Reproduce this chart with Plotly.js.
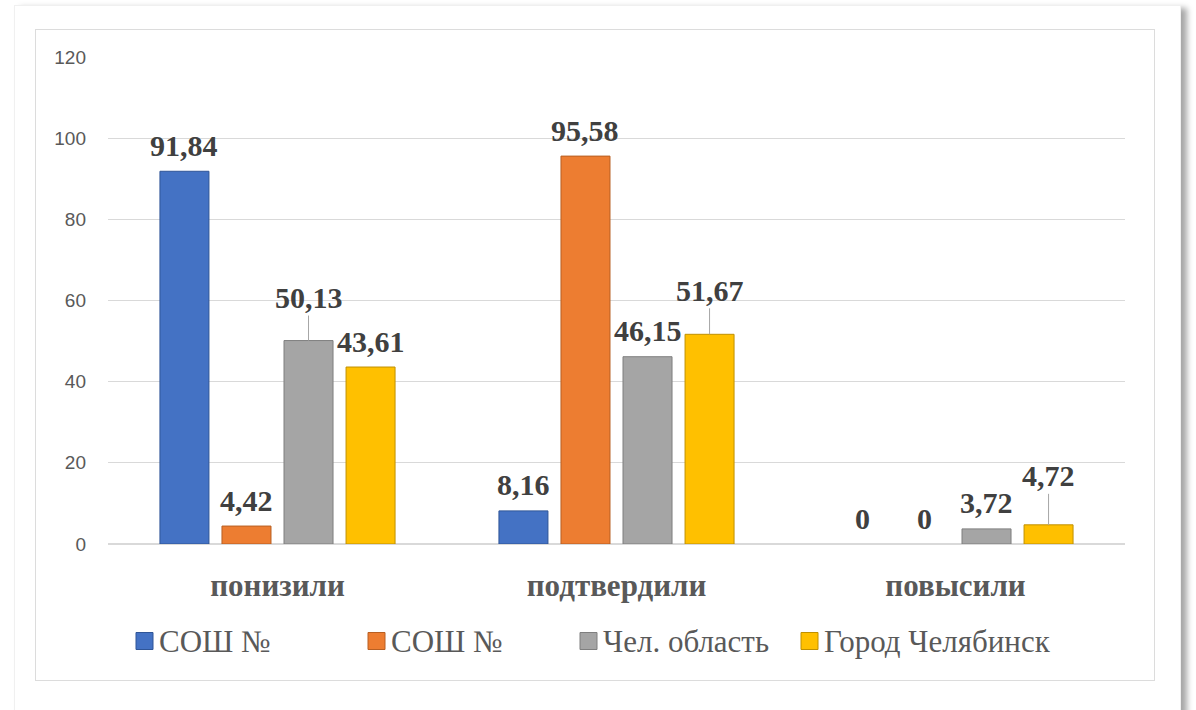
<!DOCTYPE html>
<html>
<head>
<meta charset="utf-8">
<script src="https://cdn.plot.ly/plotly-3.0.1.min.js"></script>
<style>
  html, body { margin:0; padding:0; background:#ffffff; width:1196px; height:710px; overflow:hidden; }
  #sheet { position:absolute; left:14px; top:5px; width:1165px; height:730px; background:#fff;
           border:1px solid #f0f0f0; box-shadow:6px 3px 6px rgba(0,0,0,0.35); }
  #frame { position:absolute; left:35px; top:29px; width:1118px; height:650px; border:1.5px solid #dcdcdc; }
  #chart { position:absolute; left:0; top:0; width:1196px; height:710px; }
</style>
</head>
<body>
<div id="sheet"></div>
<div id="frame"></div>
<div id="chart"></div>
<script>
// ---- data ----
const categories = ['понизили', 'подтвердили', 'повысили'];
const seriesNames = ['СОШ №', 'СОШ №', 'Чел. область', 'Город Челябинск'];
const school1 = [91.84, 8.16, 0];
const school2 = [4.42, 95.58, 0];
const region = [50.13, 46.15, 3.72];
const city = [43.61, 51.67, 4.72];
const yTicks = [0, 20, 40, 60, 80, 100, 120];
const seriesValues = [school1, school2, region, city];

// ---- styles ----
const fills = ['#4472C4', '#ED7D31', '#A5A5A5', '#FFC000'];
const edges = ['#2F5597', '#B85F22', '#7F7F7F', '#C09000'];
const bargap = 0.268, bargroupgap = 0.21;
// labels that were moved up with a leader line in the original: [series]-[category] -> lift in px
const leaderLift = { '2-0': 43, '3-1': 44, '3-2': 49 };
const normalLift = 26;

const L = 108, R = 71, T = 57, B = 166, W = 1196, H = 710;
const plotW = W - L - R, plotH = H - T - B;
const px2x = p => (p - L) / plotW;
const px2y = p => (H - B - p) / plotH;

const fmt = v => (v === 0 ? '0' : v.toFixed(2).replace('.', ','));

const traces = seriesValues.map((vals, i) => ({
  type: 'bar',
  name: seriesNames[i],
  x: categories,
  y: vals,
  marker: { color: fills[i], line: { color: edges[i], width: vals.map(v => (v === 0 ? 0 : 1)) } },
  hoverinfo: 'skip',
  showlegend: false
}));

const annotations = [];
const slot = (1 - bargap) / seriesValues.length;
seriesValues.forEach((vals, i) => {
  vals.forEach((v, j) => {
    const xc = j + (i - (seriesValues.length - 1) / 2) * slot;
    const key = i + '-' + j;
    const base = {
      x: xc, y: v, xref: 'x', yref: 'y', text: fmt(v),
      font: { family: 'Liberation Serif, Times New Roman, serif', size: 30, color: '#404040', weight: 'bold' },
      xanchor: 'center', yanchor: 'middle'
    };
    if (leaderLift[key] !== undefined) {
      annotations.push(Object.assign(base, {
        showarrow: true, ax: 0, ay: -leaderLift[key], arrowhead: 0, arrowwidth: 1,
        arrowcolor: '#a6a6a6', standoff: 0
      }));
    } else {
      annotations.push(Object.assign(base, { showarrow: false, yshift: normalLift }));
    }
  });
});

// custom legend (square markers + text)
const legendLeft = [136, 368, 580, 801];
const legendY = 641;
const shapes = [];
seriesNames.forEach((n, i) => {
  shapes.push({
    type: 'rect', xref: 'paper', yref: 'paper', xsizemode: 'pixel', ysizemode: 'pixel',
    xanchor: px2x(legendLeft[i]), yanchor: px2y(legendY),
    x0: 0, x1: 17, y0: -8.5, y1: 8.5,
    fillcolor: fills[i], line: { color: edges[i], width: 1 }
  });
  annotations.push({
    xref: 'paper', yref: 'paper', x: px2x(legendLeft[i]), y: px2y(legendY),
    xshift: 21, xanchor: 'left', yanchor: 'middle', showarrow: false,
    text: n, font: { family: 'Liberation Serif, Times New Roman, serif', size: 31, color: '#595959' }
  });
});

const layout = {
  width: W, height: H,
  margin: { l: L, r: R, t: T, b: B, pad: 0 },
  paper_bgcolor: 'rgba(0,0,0,0)', plot_bgcolor: 'rgba(0,0,0,0)',
  barmode: 'group', bargap: bargap, bargroupgap: bargroupgap,
  showlegend: false,
  xaxis: {
    type: 'category', showgrid: false, zeroline: false, showline: false, ticks: '',
    ticklabelstandoff: 20,
    tickfont: { family: 'Liberation Serif, Times New Roman, serif', size: 31, color: '#595959', weight: 'bold' }
  },
  yaxis: {
    range: [0, 120], tickvals: yTicks, ticktext: yTicks.map(String),
    showgrid: true, gridcolor: '#d9d9d9', gridwidth: 1.3,
    zeroline: true, zerolinecolor: '#d9d9d9', zerolinewidth: 1.3,
    showline: false, ticks: '', ticklabelstandoff: 21,
    tickfont: { family: 'Liberation Sans, Arial, sans-serif', size: 19, color: '#595959' }
  },
  annotations: annotations,
  shapes: shapes
};

Plotly.newPlot('chart', traces, layout, { staticPlot: true, displayModeBar: false });
</script>
</body>
</html>
